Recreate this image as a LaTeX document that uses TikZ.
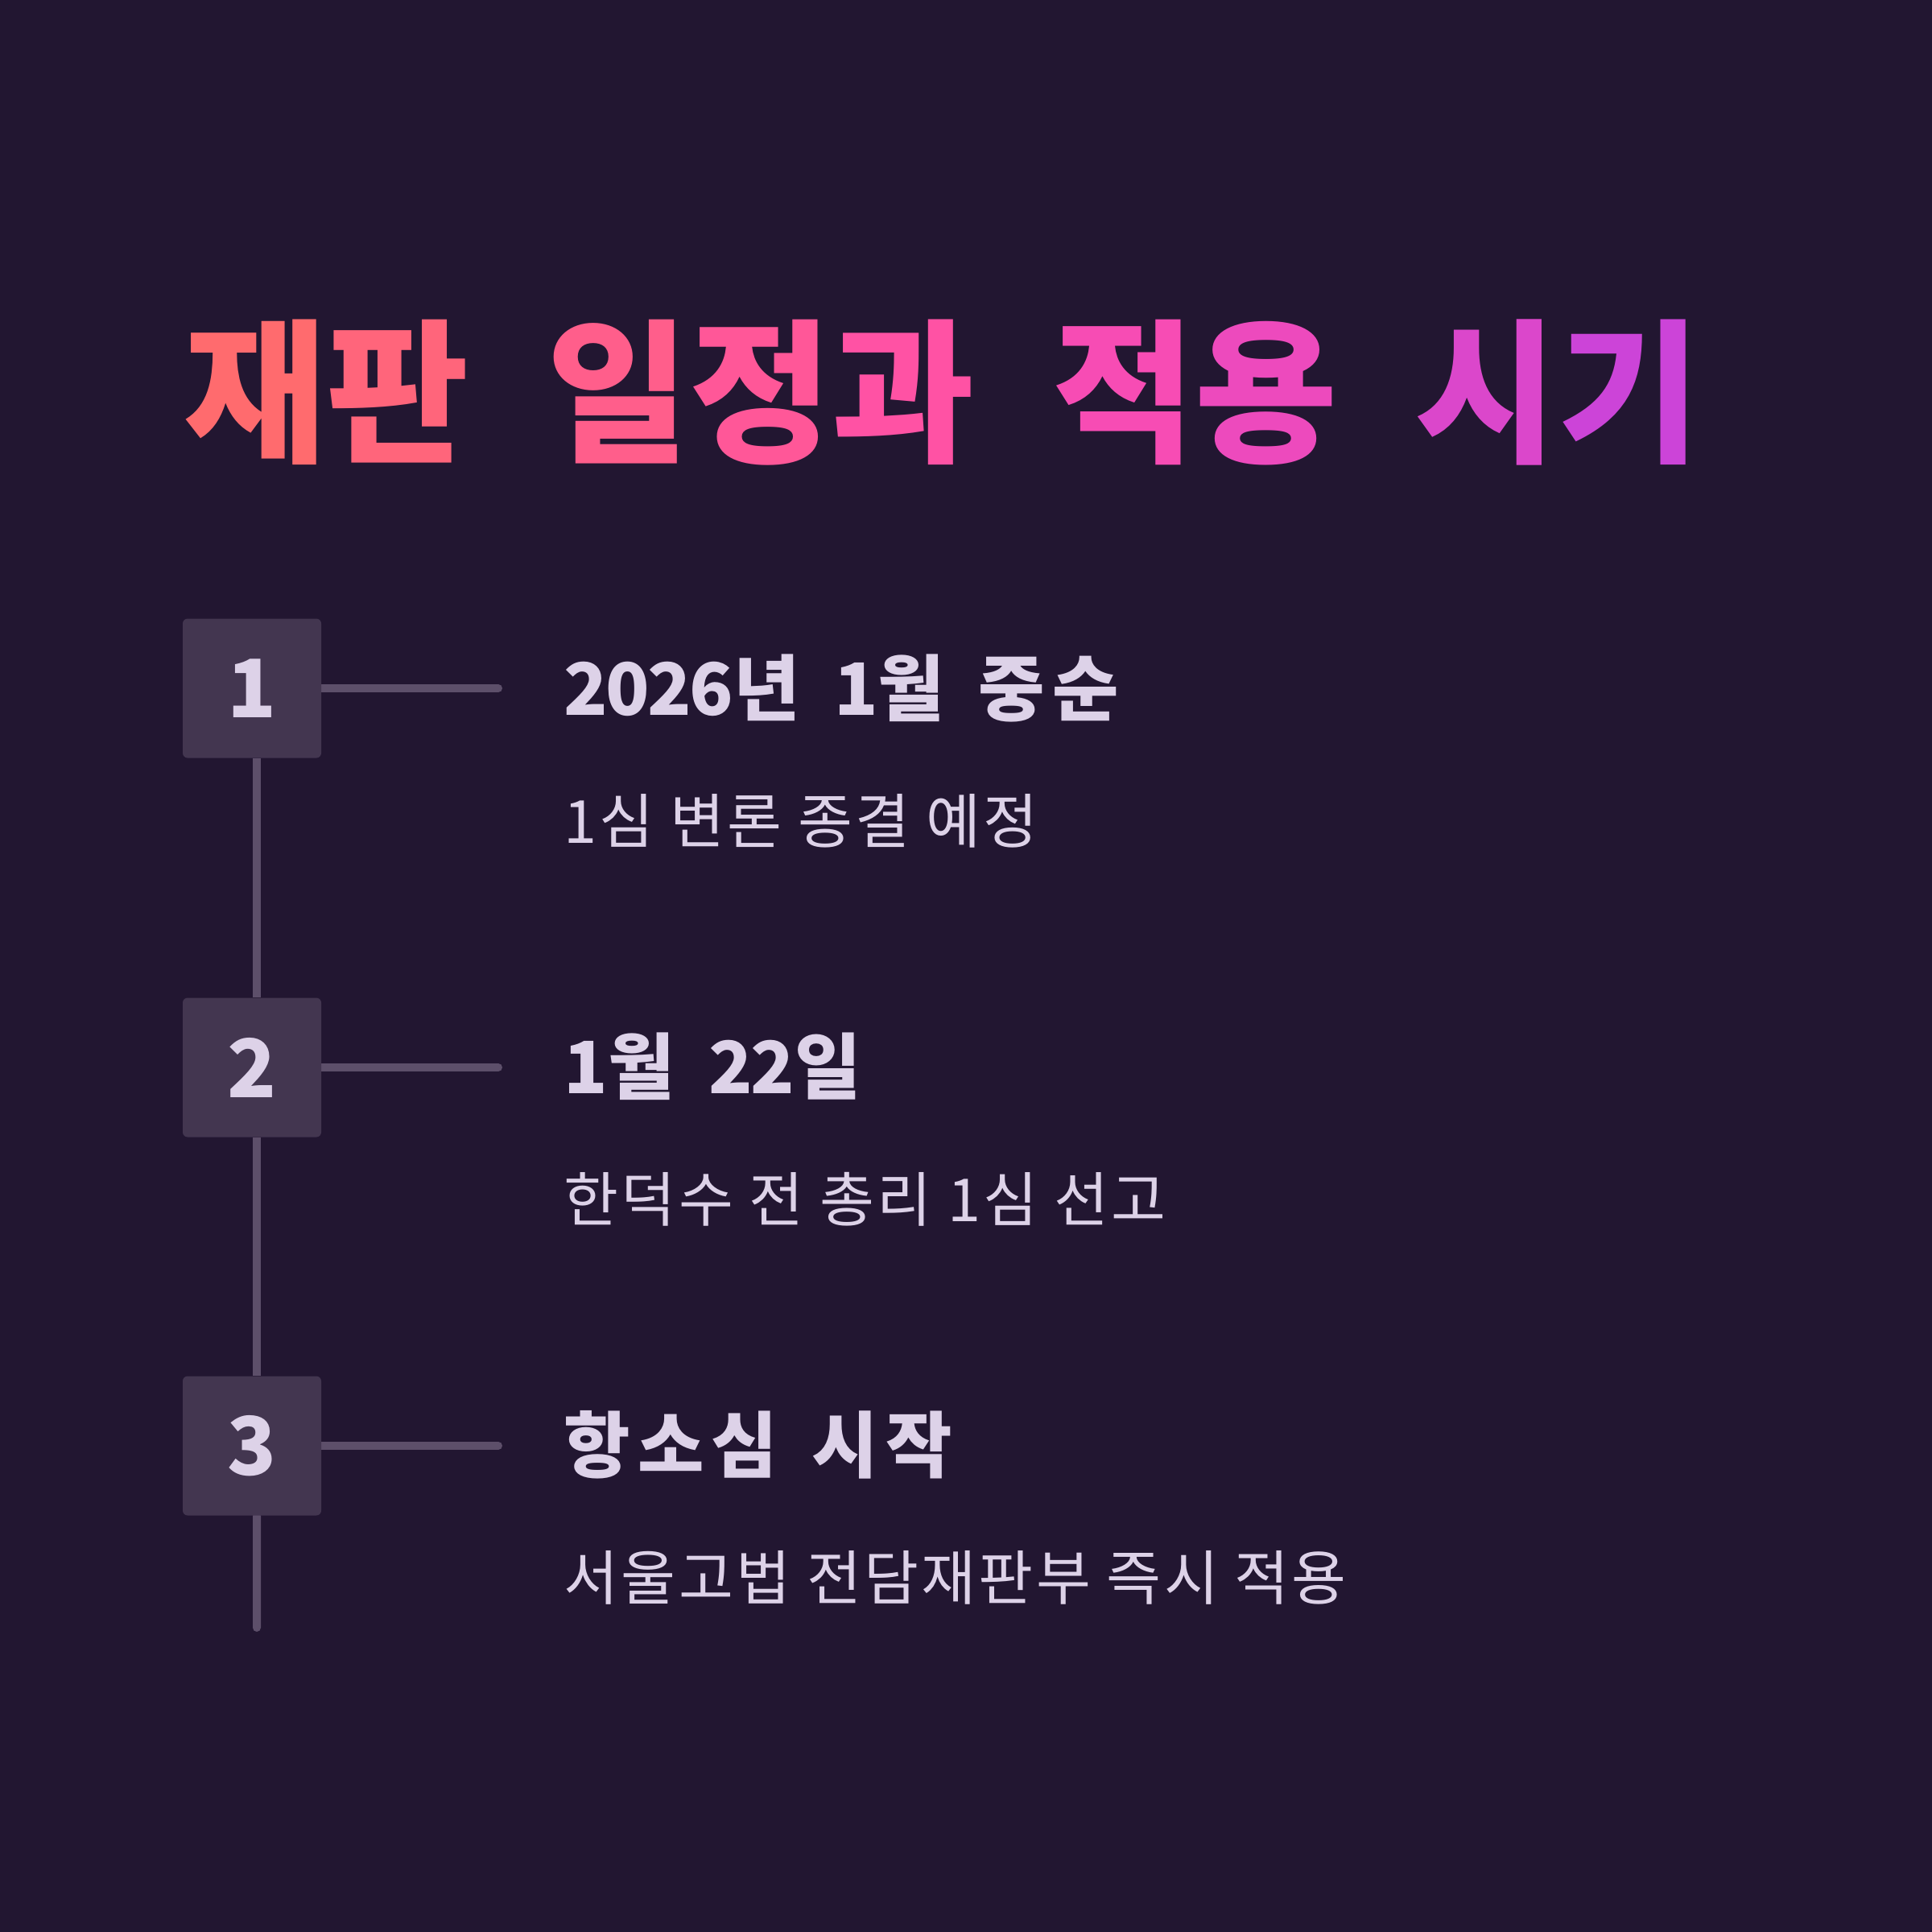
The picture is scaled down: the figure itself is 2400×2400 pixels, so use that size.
\documentclass[tikz,border=0pt]{standalone}
\usepackage{fontspec}
\usetikzlibrary{backgrounds}
\setmainfont{Noto Sans CJK KR}
\newfontfamily\titlefont{Noto Sans CJK KR}[CharacterWidth=Half]
\newfontfamily\headfont{Noto Sans CJK KR}[WordSpace=1.45,LetterSpace=10,Numbers=SlashedZero]
\newfontfamily\subfont{Noto Sans CJK KR}[LetterSpace=4.5]
\newcommand\dg[1]{{\addfontfeatures{LetterSpace=-3}#1}}
\definecolor{bgdark}{HTML}{221631}
\definecolor{boxgray}{HTML}{433650}
\definecolor{linegray}{HTML}{5D4F6A}
\definecolor{textlight}{HTML}{DDD2E8}
\definecolor{coral}{HTML}{FF6B6E}
\definecolor{hotpink}{HTML}{FF4DAE}
\definecolor{violet}{HTML}{CC44D8}

\begin{document}
\begin{tikzpicture}[x=0.1mm,y=-0.1mm,
  stepbox/.style={fill=boxgray,rounded corners=0.6mm,minimum width=17.2mm,minimum height=17.3mm,
    inner sep=0pt,text=textlight,font=\fontsize{28.5}{30}\selectfont\bfseries},
  headtxt/.style={anchor=base west,inner sep=0pt,text=textlight,font=\headfont\fontsize{25.5}{27}\selectfont\bfseries},
  subtxt/.style={anchor=base west,inner sep=0pt,text=textlight,font=\subfont\fontsize{21}{23}\selectfont},
  rail/.style={linegray,line width=1mm}]
\useasboundingbox (0,0) rectangle (2400,2400);

% title
\node[anchor=base west,inner sep=0pt,font=\titlefont\fontsize{54.8}{58}\selectfont\bfseries] (title) at (228,559)
  {\textcolor{coral}{재}\textcolor{coral!80!hotpink}{판} \textcolor{coral!55!hotpink}{일}\textcolor{coral!35!hotpink}{정}\textcolor{coral!15!hotpink}{과} \textcolor{hotpink!85!violet}{적}\textcolor{hotpink!65!violet}{용} \textcolor{hotpink!30!violet}{시}\textcolor{violet}{기}};

% steps
\node[stepbox] (b1) at (313,855) {1};
\node[stepbox] (b2) at (313,1326) {2};
\node[stepbox] (b3) at (313,1796) {3};

\node[headtxt] (h1) at (700,888) {\dg{2026}년 \dg{1}월 중순};
\node[subtxt] (s1) at (700,1047) {1심 변론 종결 예정};
\node[headtxt] (h2) at (700,1358) {\dg{1}월 \dg{22}일};
\node[subtxt] (s2) at (700,1517) {한덕수 전 총리 1심 선고};
\node[headtxt] (h3) at (700,1828) {항소심 시작};
\node[subtxt] (s3) at (700,1987) {서울고법 전담재판부 즉시 적용};

\coordinate (e1) at (619,855);
\coordinate (e2) at (619,1326);
\coordinate (e3) at (619,1796);
\coordinate (tail) at (319,2022);

\begin{pgfonlayer}{background}
\fill[bgdark] (0,0) rectangle (2400,2400);
\draw[rail,line cap=round] (b1.east) -- (e1);
\draw[rail,line cap=round] (b2.east) -- (e2);
\draw[rail,line cap=round] (b3.east) -- (e3);
\draw[rail] ([xshift=0.6mm]b1.south) -- ([xshift=0.6mm]b2.north);
\draw[rail] ([xshift=0.6mm]b2.south) -- ([xshift=0.6mm]b3.north);
\draw[rail,line cap=round] ([xshift=0.6mm]b3.south) -- (tail);
\end{pgfonlayer}
\end{tikzpicture}
\end{document}
